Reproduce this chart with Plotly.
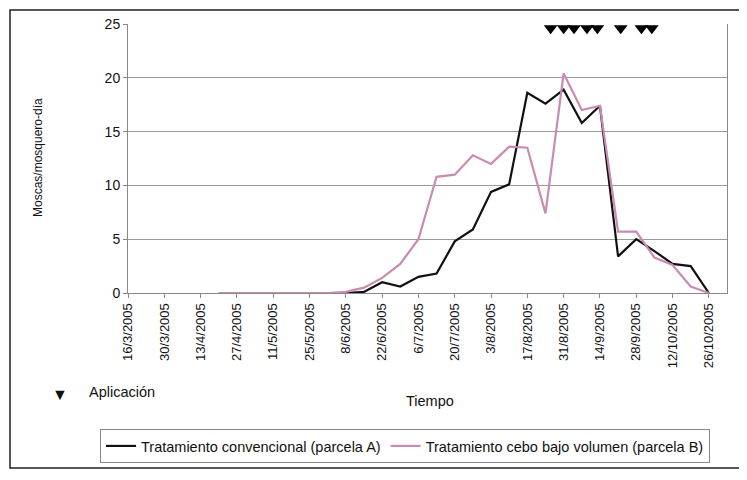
import plotly.graph_objects as go

dates = ["2005-03-16", "2005-03-23", "2005-03-30", "2005-04-06", "2005-04-13", "2005-04-20",
         "2005-04-27", "2005-05-04", "2005-05-11", "2005-05-18", "2005-05-25", "2005-06-01",
         "2005-06-08", "2005-06-15", "2005-06-22", "2005-06-29", "2005-07-06", "2005-07-13",
         "2005-07-20", "2005-07-27", "2005-08-03", "2005-08-10", "2005-08-17", "2005-08-24",
         "2005-08-31", "2005-09-07", "2005-09-14", "2005-09-21", "2005-09-28", "2005-10-05",
         "2005-10-12", "2005-10-19", "2005-10-26"]

parcela_a = [None, None, None, None, None, 0, 0, 0, 0, 0, 0, 0,
             0, 0.1, 1.0, 0.6, 1.5, 1.8, 4.8, 5.9, 9.4, 10.1, 18.6, 17.6,
             18.9, 15.8, 17.4, 3.4, 5.0, 3.9, 2.7, 2.5, 0]

parcela_b = [None, None, None, None, None, 0, 0, 0, 0, 0, 0, 0,
             0.1, 0.5, 1.4, 2.7, 5.0, 10.8, 11.0, 12.8, 12.0, 13.6, 13.5, 7.4,
             20.4, 17.0, 17.4, 5.7, 5.7, 3.3, 2.6, 0.6, 0]

aplicaciones = ["2005-08-26", "2005-08-31", "2005-09-04", "2005-09-09", "2005-09-13",
                "2005-09-22", "2005-09-30", "2005-10-04"]
aplicacion_y = [24.6] * len(aplicaciones)

tick_vals = ["2005-03-16", "2005-03-30", "2005-04-13", "2005-04-27", "2005-05-11", "2005-05-25",
             "2005-06-08", "2005-06-22", "2005-07-06", "2005-07-20", "2005-08-03", "2005-08-17",
             "2005-08-31", "2005-09-14", "2005-09-28", "2005-10-12", "2005-10-26"]
tick_text = ["16/3/2005", "30/3/2005", "13/4/2005", "27/4/2005", "11/5/2005", "25/5/2005",
             "8/6/2005", "22/6/2005", "6/7/2005", "20/7/2005", "3/8/2005", "17/8/2005",
             "31/8/2005", "14/9/2005", "28/9/2005", "12/10/2005", "26/10/2005"]

FONT = "Liberation Sans, Arial, sans-serif"

fig = go.Figure()
fig.add_trace(go.Scatter(x=dates, y=parcela_a, mode="lines",
                         name="Tratamiento convencional (parcela A)",
                         line=dict(color="#111111", width=2.2), connectgaps=False))
fig.add_trace(go.Scatter(x=dates, y=parcela_b, mode="lines",
                         name="Tratamiento cebo bajo volumen (parcela B)",
                         line=dict(color="#C98BB2", width=2.2), connectgaps=False))
fig.add_trace(go.Scatter(x=aplicaciones, y=aplicacion_y, mode="markers",
                         name="Aplicación", showlegend=False,
                         marker=dict(symbol="triangle-down", size=12, color="#000000"),
                         cliponaxis=False))

# page body has an 8px margin: work in reference coordinates minus 8
OFF = 8
W, H = 739, 472
L, R, T, B = 120, 20, 16, 187
pw, ph = W - L - R, H - T - B

def px(x):
    return (x - OFF - L) / pw

def py(y):
    return (H - B - (y - OFF)) / ph

fig.update_layout(
    width=W, height=H,
    margin=dict(l=L, r=R, t=T, b=B, autoexpand=False),
    paper_bgcolor="white", plot_bgcolor="white",
    font=dict(family=FONT, size=13, color="#111111"),
    showlegend=True,
    legend=dict(orientation="h", x=px(100), xanchor="left", y=py(446), yanchor="middle",
                bordercolor="#888888", borderwidth=1, font=dict(size=14.5),
                tracegroupgap=0),
    xaxis=dict(type="date", range=["2005-03-16", "2005-11-02"],
               tickvals=tick_vals, ticktext=tick_text, tickangle=-90,
               showgrid=False, showline=True, linecolor="#888888", linewidth=1,
               ticks="outside", ticklen=4, tickcolor="#888888", zeroline=False,
               tickfont=dict(size=13)),
    yaxis=dict(range=[0, 25], dtick=5, showgrid=True, gridcolor="#9A9A9A", gridwidth=1,
               showline=True, linecolor="#888888", linewidth=1, mirror=True,
               ticks="outside", ticklen=4, tickcolor="#888888", zeroline=False,
               tickfont=dict(size=14)),
    annotations=[
        dict(text="Moscas/mosquero-día", xref="paper", yref="paper", x=px(38), y=py(158),
             textangle=-90, showarrow=False, font=dict(size=12), xanchor="center", yanchor="middle"),
        dict(text="Tiempo", xref="paper", yref="paper", x=px(430), y=py(401),
             showarrow=False, font=dict(size=14.5), xanchor="center", yanchor="middle"),
        dict(text="▼", xref="paper", yref="paper", x=px(60), y=py(394),
             showarrow=False, font=dict(size=16), xanchor="center", yanchor="middle"),
        dict(text="Aplicación", xref="paper", yref="paper", x=px(87), y=py(392),
             showarrow=False, font=dict(size=14.5), xanchor="left", yanchor="middle"),
    ],
    shapes=[
        dict(type="rect", xref="paper", yref="paper", x0=px(10), x1=px(740), y0=py(468), y1=py(10),
             line=dict(color="#222222", width=1.5), fillcolor="rgba(0,0,0,0)", layer="above"),
    ],
)

fig.write_html("out.html")
